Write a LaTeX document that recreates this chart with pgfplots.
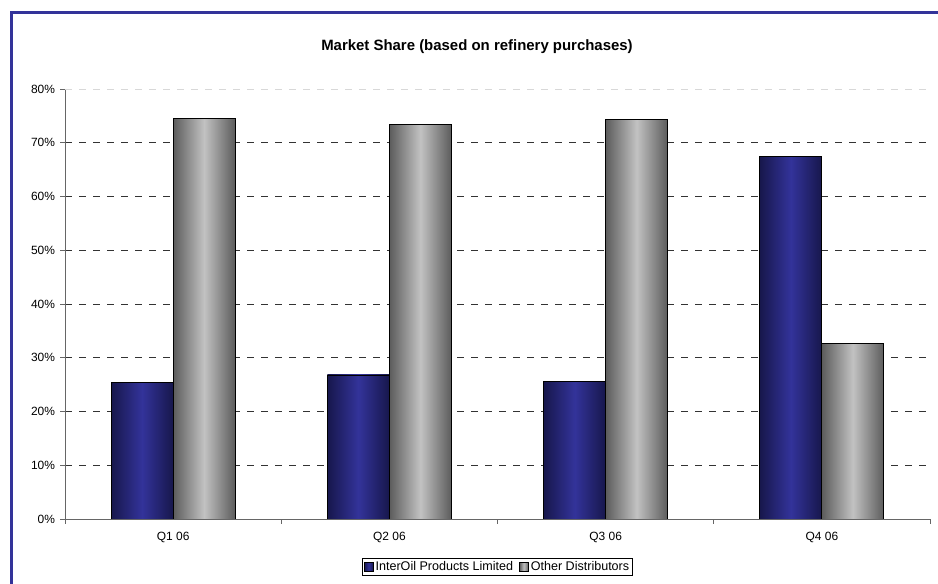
\documentclass[border=0pt]{standalone}
\usepackage{pgfplots}
\pgfplotsset{compat=1.18}
\usepackage{fontspec}
\setmainfont{Liberation Sans}
\definecolor{frameblue}{HTML}{333399}
\definecolor{bluedark}{HTML}{17174C}
\definecolor{bluemid}{HTML}{33339A}
\definecolor{graydark}{HTML}{5C5C5C}
\definecolor{graylight}{HTML}{C2C2C2}
\definecolor{gridgray}{HTML}{D8D8D8}
\pgfplotsset{
  bluebar/.style={draw=black, line width=0.8bp, left color=bluedark, right color=bluedark, middle color=bluemid, bar shift=-31bp},
  graybar/.style={draw=black, line width=0.8bp, left color=graydark, right color=graydark, middle color=graylight, bar shift=31bp},
}
\begin{document}
\begin{tikzpicture}[x=1bp,y=1bp]
\path[use as bounding box] (0,0) rectangle (938,584);
\draw[frameblue, line width=3.5bp] (11.5,0) -- (11.5,571.5) -- (938,571.5);
\node[font=\bfseries\fontsize{15}{17}\selectfont] at (477,537) {Market Share (based on refinery purchases)};
\begin{axis}[
  at={(65bp,65bp)}, anchor=south west, scale only axis,
  width=865bp, height=430bp,
  ybar, bar width=62bp,
  ymin=0, ymax=80, xmin=-0.5, xmax=3.5,
  axis x line*=bottom, axis y line*=left,
  axis line style={draw=gray!80!black, line width=0.8bp, -},
  tick align=outside,
  major tick length=5bp, minor tick length=5bp,
  xtick={0,1,2,3}, xticklabels={Q1 06,Q2 06,Q3 06,Q4 06},
  minor xtick={-0.5,0.5,1.5,2.5,3.5},
  major x tick style={draw=none},
  minor x tick style={draw=gray!80!black, line width=0.8bp},
  y tick style={draw=gray!80!black, line width=0.8bp},
  ytick={0,10,...,70},
  extra y ticks={80},
  extra y tick style={major grid style={draw=gridgray, line width=0.8bp, dash pattern=on 7bp off 7bp}},
  yticklabel={\pgfmathprintnumber{\tick}\%},
  /pgf/number format/assume math mode=true,
  ticklabel style={font=\fontsize{12}{13}\selectfont},
  xticklabel style={yshift=-5bp},
  yticklabel style={xshift=-1.5bp},
  ymajorgrids,
  major grid style={draw=black!80, line width=0.8bp, dash pattern=on 7bp off 7bp},
  legend style={at={(0.5,-0.1116)}, anchor=center, draw=black, line width=0.8bp,
    font=\fontsize{12.6}{14}\selectfont, inner sep=1.5bp, legend columns=2,
    /tikz/every even column/.append style={column sep=4bp}},
  legend image code/.code={\draw[#1, line width=0.8bp] (0bp,-4.5bp) rectangle (9bp,4.5bp);},
]
\addplot[bluebar] coordinates {(0,25.4)};
\addplot[graybar] coordinates {(0,74.6)};
\addplot[bluebar, forget plot] coordinates {(1,26.8)};
\addplot[bluebar, forget plot] coordinates {(2,25.6)};
\addplot[bluebar, forget plot] coordinates {(3,67.4)};
\addplot[graybar, forget plot] coordinates {(1,73.4)};
\addplot[graybar, forget plot] coordinates {(2,74.4)};
\addplot[graybar, forget plot] coordinates {(3,32.6)};
\legend{InterOil Products Limited, Other Distributors}
\end{axis}
\end{tikzpicture}
\end{document}
